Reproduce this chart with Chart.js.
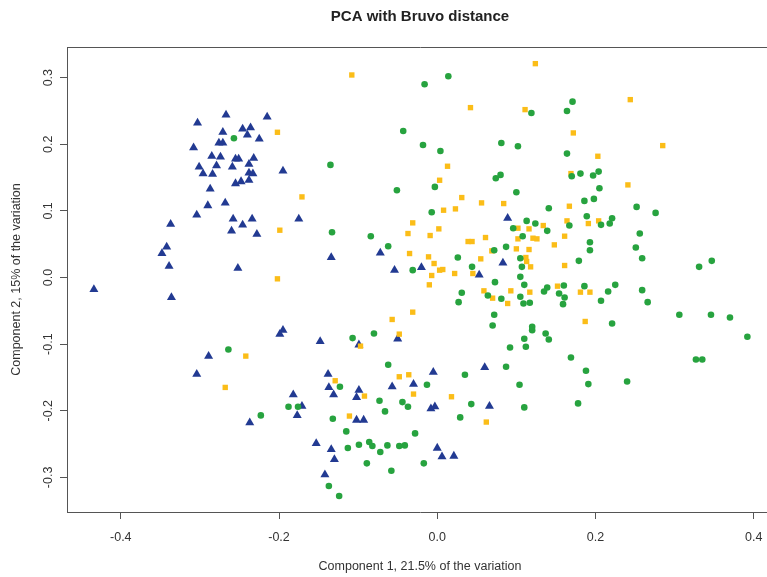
<!DOCTYPE html>
<html>
<head>
<meta charset="utf-8">
<title>PCA with Bruvo distance</title>
<script src="https://cdn.jsdelivr.net/npm/chart.js@4.4.1/dist/chart.umd.min.js"></script>
<style>
    html, body { margin: 0; padding: 0; background: #fff; overflow: hidden; }
    #wrap { position: relative; width: 780px; height: 577px; }
</style>
</head>
<body>
<div id="wrap"><canvas id="pca" width="780" height="577"></canvas></div>
<script>
// values: [component 1, component 2]
const groupTriangle = [
    [-0.267, 0.244], [-0.303, 0.232], [-0.215, 0.241], [-0.271, 0.218], [-0.246, 0.223],
    [-0.236, 0.225], [-0.240, 0.214], [-0.225, 0.208], [-0.276, 0.202], [-0.271, 0.202],
    [-0.308, 0.195], [-0.285, 0.182], [-0.274, 0.181], [-0.255, 0.178], [-0.251, 0.178],
    [-0.232, 0.179], [-0.301, 0.166], [-0.279, 0.168], [-0.259, 0.166], [-0.238, 0.170],
    [-0.296, 0.156], [-0.284, 0.155], [-0.238, 0.157], [-0.233, 0.156], [-0.195, 0.160],
    [-0.255, 0.141], [-0.248, 0.144], [-0.238, 0.146], [-0.287, 0.133], [-0.290, 0.108],
    [-0.268, 0.112], [-0.304, 0.094], [-0.258, 0.088], [-0.246, 0.079], [-0.234, 0.088],
    [-0.175, 0.088], [-0.260, 0.070], [-0.228, 0.065], [-0.337, 0.080], [-0.342, 0.046],
    [-0.348, 0.036], [-0.339, 0.017], [-0.252, 0.014], [-0.434, -0.018], [-0.336, -0.030],
    [-0.195, -0.079], [-0.199, -0.085], [-0.289, -0.118], [-0.304, -0.145], [-0.182, -0.176],
    [-0.171, -0.193], [-0.177, -0.207], [-0.237, -0.218],
    [0.089, 0.089], [-0.134, 0.030], [-0.072, 0.037], [-0.054, 0.011], [-0.020, 0.015],
    [0.083, 0.022], [0.053, 0.004],
    [-0.148, -0.096], [-0.099, -0.101], [-0.050, -0.092], [-0.138, -0.145], [-0.137, -0.165],
    [-0.131, -0.176], [-0.099, -0.169], [-0.102, -0.180], [-0.057, -0.164], [-0.030, -0.160],
    [-0.005, -0.142], [0.060, -0.135], [0.066, -0.193], [-0.008, -0.197], [-0.003, -0.194],
    [-0.102, -0.214], [-0.093, -0.214], [-0.153, -0.249], [-0.134, -0.258], [-0.130, -0.273],
    [-0.142, -0.296], [0.000, -0.256], [0.006, -0.269], [0.021, -0.268]
];

const groupCircle = [
    [-0.257, 0.209], [-0.264, -0.108], [-0.223, -0.207], [-0.188, -0.194], [-0.176, -0.194],
    [0.014, 0.302], [-0.016, 0.290], [0.119, 0.247], [-0.043, 0.220], [-0.018, 0.199],
    [0.004, 0.190], [0.081, 0.202], [0.102, 0.197], [-0.135, 0.169], [0.074, 0.149],
    [0.080, 0.154], [-0.003, 0.136], [-0.051, 0.131], [0.100, 0.128], [-0.007, 0.098],
    [0.113, 0.085], [0.124, 0.081], [0.096, 0.074], [0.108, 0.062], [-0.133, 0.068],
    [-0.084, 0.062], [-0.062, 0.047], [0.072, 0.041], [0.087, 0.046], [0.026, 0.030],
    [0.105, 0.029], [0.107, 0.016], [-0.031, 0.011], [0.044, 0.016], [0.105, 0.001],
    [0.073, -0.007], [0.110, -0.011],
    [0.171, 0.264], [0.164, 0.250], [0.164, 0.186], [0.181, 0.156], [0.170, 0.152],
    [0.197, 0.153], [0.204, 0.159], [0.205, 0.134], [0.186, 0.115], [0.198, 0.118],
    [0.141, 0.104], [0.252, 0.106], [0.276, 0.097], [0.189, 0.092], [0.221, 0.089],
    [0.218, 0.081], [0.207, 0.079], [0.167, 0.078], [0.139, 0.070], [0.256, 0.066],
    [0.193, 0.053], [0.193, 0.041], [0.251, 0.045], [0.259, 0.029], [0.179, 0.025],
    [0.331, 0.016], [0.347, 0.025],
    [0.135, -0.021], [0.139, -0.015], [0.160, -0.012], [0.154, -0.024], [0.161, -0.030],
    [0.159, -0.040], [0.186, -0.013], [0.216, -0.021], [0.225, -0.011], [0.207, -0.035],
    [0.259, -0.019], [0.266, -0.037], [0.306, -0.056], [0.346, -0.056], [0.370, -0.060],
    [0.392, -0.089], [0.221, -0.069], [0.137, -0.084], [0.141, -0.093], [0.169, -0.120],
    [0.188, -0.140], [0.191, -0.160], [0.240, -0.156], [0.178, -0.189], [0.327, -0.123],
    [0.335, -0.123],
    [0.031, -0.023], [0.027, -0.037], [0.064, -0.027], [0.081, -0.032], [0.105, -0.029],
    [0.109, -0.039], [0.117, -0.038], [0.072, -0.056], [0.070, -0.072], [0.120, -0.074],
    [0.120, -0.079], [0.110, -0.092], [0.112, -0.104], [0.092, -0.105], [0.087, -0.134],
    [0.104, -0.161], [0.110, -0.195], [-0.107, -0.091], [-0.080, -0.084], [-0.062, -0.131],
    [0.035, -0.146], [-0.013, -0.161], [-0.123, -0.164], [-0.073, -0.185], [-0.066, -0.201],
    [-0.044, -0.187], [-0.037, -0.194], [0.043, -0.190], [0.029, -0.210], [-0.132, -0.212],
    [-0.115, -0.231], [-0.028, -0.234], [-0.113, -0.256], [-0.099, -0.251], [-0.086, -0.247],
    [-0.082, -0.253], [-0.072, -0.262], [-0.063, -0.252], [-0.048, -0.253], [-0.041, -0.252],
    [-0.089, -0.279], [-0.058, -0.290], [-0.017, -0.279], [-0.137, -0.313], [-0.124, -0.328]
];

const groupSquare = [
    [-0.202, 0.218], [-0.171, 0.121], [-0.199, 0.071], [-0.202, -0.002], [-0.242, -0.118],
    [-0.268, -0.165], [-0.108, 0.304], [0.124, 0.321], [0.042, 0.255], [0.111, 0.252],
    [0.013, 0.167], [0.003, 0.146], [0.031, 0.120], [0.056, 0.112], [0.084, 0.111],
    [0.023, 0.103], [0.008, 0.101], [-0.031, 0.082], [-0.037, 0.066], [-0.009, 0.063],
    [0.002, 0.073], [0.039, 0.054], [0.044, 0.054], [0.061, 0.060], [0.102, 0.074],
    [0.116, 0.073], [0.102, 0.058], [0.121, 0.059], [0.126, 0.058], [0.069, 0.040],
    [0.100, 0.043], [0.116, 0.042], [-0.035, 0.036], [-0.011, 0.031], [0.055, 0.028],
    [-0.004, 0.021], [0.003, 0.011], [0.007, 0.012], [0.022, 0.006], [0.045, 0.006],
    [-0.007, 0.003], [0.112, 0.030], [0.113, 0.024], [0.118, 0.016], [-0.010, -0.011],
    [0.244, 0.267], [0.172, 0.217], [0.285, 0.198], [0.203, 0.182], [0.169, 0.156],
    [0.241, 0.139], [0.167, 0.107], [0.164, 0.085], [0.191, 0.081], [0.204, 0.085],
    [0.134, 0.078], [0.161, 0.062], [0.148, 0.049], [0.161, 0.018], [0.152, -0.013],
    [0.181, -0.022], [0.193, -0.022], [0.187, -0.066], [0.059, -0.020], [0.070, -0.031],
    [0.093, -0.020], [0.089, -0.039], [0.117, -0.022], [-0.031, -0.052], [-0.057, -0.063],
    [-0.048, -0.085], [-0.097, -0.103], [-0.129, -0.155], [-0.048, -0.149], [-0.036, -0.146],
    [-0.030, -0.175], [-0.092, -0.178], [-0.111, -0.208], [0.018, -0.179], [0.062, -0.217]
];

const xTicks = [-0.4, -0.2, 0.0, 0.2, 0.4];
const yTicks = [-0.3, -0.2, -0.1, 0.0, 0.1, 0.2, 0.3];

const xRange = [-0.468, 0.4244];
const yRange = [-0.352, 0.346];

function toPoints(list) {
    return list.map(function(p) { return { x: p[0], y: p[1] }; });
}

const axisFont = { family: "'Liberation Sans', Arial, sans-serif", size: 12.5 };
const boxColor = '#555555';

const ctx = document.getElementById('pca');
const myChart = new Chart(ctx, {
    type: 'scatter',
    data: {
        datasets: [
            {
                label: 'circle',
                data: toPoints(groupCircle),
                pointStyle: 'circle',
                pointRadius: 3.3,
                backgroundColor: '#27a33f',
                borderColor: '#27a33f',
                borderWidth: 0
            },
            {
                label: 'square',
                data: toPoints(groupSquare),
                pointStyle: 'rect',
                pointRadius: 3.8,
                backgroundColor: '#fbbd18',
                borderColor: '#fbbd18',
                borderWidth: 0
            },
            {
                label: 'triangle',
                data: toPoints(groupTriangle),
                pointStyle: 'triangle',
                pointRadius: 5.2,
                backgroundColor: '#223a92',
                borderColor: '#223a92',
                borderWidth: 0
            }
        ]
    },
    options: {
        responsive: false,
        maintainAspectRatio: false,
        animation: false,
        devicePixelRatio: 1,
        layout: { padding: { left: 0, right: 7, top: 0, bottom: 0 } },
        plugins: {
            legend: { display: false },
            tooltip: { enabled: false },
            title: { display: false }
        },
        scales: {
            x: {
                type: 'linear',
                position: 'bottom',
                min: xRange[0],
                max: xRange[1],
                afterBuildTicks: function(axis) {
                    axis.ticks = xTicks.map(function(v) { return { value: v }; });
                },
                afterFit: function(axis) { axis.height = 65; },
                grid: { drawOnChartArea: false, drawTicks: true, tickLength: 7, color: boxColor },
                border: { display: true, color: boxColor, width: 1 },
                ticks: {
                    color: '#333',
                    font: axisFont,
                    padding: 11,
                    maxRotation: 0,
                    autoSkip: false,
                    callback: function(v) { return v.toFixed(1); }
                },
                title: {
                    display: true,
                    text: 'Component 1, 21.5% of the variation',
                    color: '#333',
                    font: axisFont,
                    padding: { top: 0, bottom: 3 }
                }
            },
            top: {
                type: 'linear',
                position: 'top',
                min: xRange[0],
                max: xRange[1],
                afterFit: function(axis) { axis.height = 47; },
                grid: { display: false },
                border: { display: true, color: boxColor, width: 1 },
                ticks: { display: false },
                title: {
                    display: true,
                    text: 'PCA with Bruvo distance',
                    color: '#222',
                    font: { family: "'Liberation Sans', Arial, sans-serif", size: 15, weight: 'bold' },
                    padding: { top: 8, bottom: 0 }
                }
            },
            y: {
                type: 'linear',
                position: 'left',
                min: yRange[0],
                max: yRange[1],
                afterBuildTicks: function(axis) {
                    axis.ticks = yTicks.map(function(v) { return { value: v }; });
                },
                afterFit: function(axis) { axis.width = 67; },
                grid: { drawOnChartArea: false, drawTicks: true, tickLength: 7, color: boxColor },
                border: { display: true, color: boxColor, width: 1 },
                ticks: {
                    color: '#333',
                    font: axisFont,
                    padding: 1,
                    minRotation: 90,
                    maxRotation: 90,
                    crossAlign: 'center',
                    autoSkip: false,
                    callback: function(v) { return v.toFixed(1); }
                },
                title: {
                    display: true,
                    text: 'Component 2, 15% of the variation',
                    color: '#333',
                    font: axisFont,
                    padding: { top: 9, bottom: 0 }
                }
            }
        }
    }
});
</script>
</body>
</html>
